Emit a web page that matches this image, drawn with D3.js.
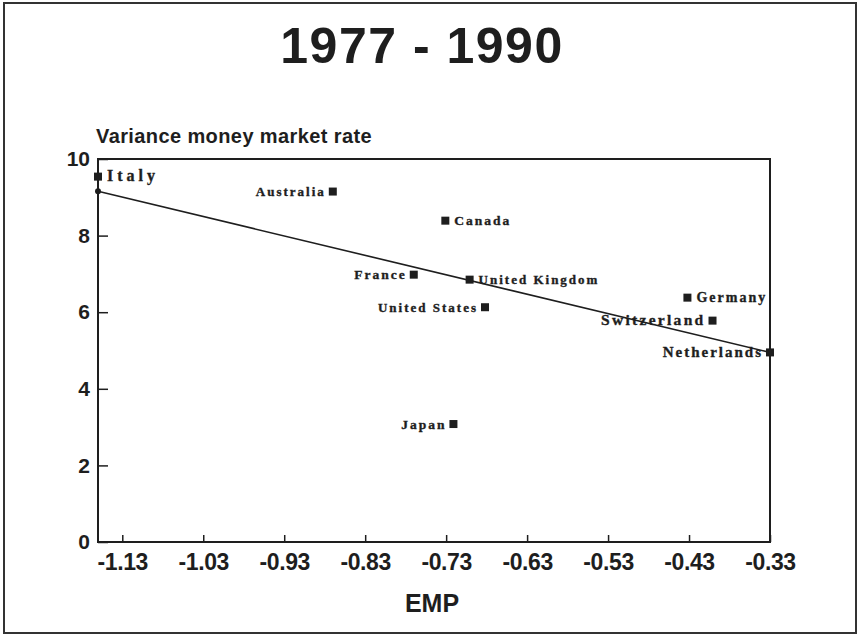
<!DOCTYPE html>
<html>
<head>
<meta charset="utf-8">
<script src="https://cdn.jsdelivr.net/npm/d3@7"></script>
<style>
  html, body { margin: 0; padding: 0; background: #fff; }
  svg { display: block; }
</style>
</head>
<body>
<svg id="chart" width="859" height="636"></svg>
<script>
// Countries, EMP (x) and variance of the money market rate (y), 1977-1990
const countries = ["Italy", "Australia", "Canada", "France", "United Kingdom",
  "United States", "Germany", "Switzerland", "Netherlands", "Japan"];
const emp = [-1.16, -0.87, -0.731, -0.77, -0.701, -0.682, -0.432, -0.401, -0.33, -0.721];
const variance = [9.54, 9.15, 8.39, 6.98, 6.85, 6.13, 6.38, 5.78, 4.95, 3.08];
const labelSide = ["right", "left", "right", "left", "right", "left", "right", "left", "left", "left"];
const xTicks = [-1.13, -1.03, -0.93, -0.83, -0.73, -0.63, -0.53, -0.43, -0.33];
const yTicks = [0, 2, 4, 6, 8, 10];

// per-label lettering (size, tracking)
const labelFont = {
  "Italy": [16, 4], "Australia": [13, 2], "Canada": [13.5, 2], "France": [13.5, 2],
  "United Kingdom": [13, 2], "United States": [13, 2], "Germany": [14, 2],
  "Switzerland": [15.5, 2.3], "Netherlands": [15, 2], "Japan": [13.5, 2]
};

const svg = d3.select("#chart");
const ink = "#1e1e1e";
const sans = "Liberation Sans, Arial, sans-serif";
const plotL = 98, plotR = 770, plotT = 159, plotB = 542;

const x = d3.scaleLinear().domain([-1.16, -0.33]).range([plotL, plotR]);
const y = d3.scaleLinear().domain([0, 10]).range([plotB, plotT]);

// outer frame
svg.append("rect").attr("x", 4).attr("y", 3).attr("width", 852).attr("height", 630)
  .attr("fill", "none").attr("stroke", "#333").attr("stroke-width", 2);

// title
svg.append("text").attr("x", 422).attr("y", 63).attr("text-anchor", "middle")
  .attr("font-family", sans).attr("font-size", 50)
  .attr("font-weight", "bold").attr("fill", ink).attr("letter-spacing", 1.5)
  .text("1977 - 1990");

// y-axis title
svg.append("text").attr("x", 96).attr("y", 143)
  .attr("font-family", sans).attr("font-size", 20)
  .attr("font-weight", "bold").attr("fill", ink).attr("letter-spacing", 0.4)
  .text("Variance money market rate");

// x-axis title
svg.append("text").attr("x", 432).attr("y", 612).attr("text-anchor", "middle")
  .attr("font-family", sans).attr("font-size", 25)
  .attr("font-weight", "bold").attr("fill", ink)
  .text("EMP");

// plot box
svg.append("rect").attr("x", plotL).attr("y", plotT).attr("width", plotR - plotL).attr("height", plotB - plotT)
  .attr("fill", "none").attr("stroke", ink).attr("stroke-width", 2);

// axes with inward ticks
const xAxis = d3.axisBottom(x).tickValues(xTicks).tickSize(-7).tickPadding(12)
  .tickFormat(d => d3.format(".2f")(d).replace("−", "-"));
const gx = svg.append("g").attr("transform", `translate(0,${plotB})`).call(xAxis);
gx.select(".domain").remove();
gx.selectAll("line").attr("stroke", ink).attr("stroke-width", 1.5);
gx.selectAll("text").attr("font-family", sans)
  .attr("font-size", 23).attr("font-weight", "bold").attr("fill", ink).attr("letter-spacing", -0.4);

const yAxis = d3.axisLeft(y).tickValues(yTicks).tickSize(-10).tickPadding(8).tickFormat(d3.format("d"));
const gy = svg.append("g").attr("transform", `translate(${plotL},0)`).call(yAxis);
gy.select(".domain").remove();
gy.selectAll("line").attr("stroke", ink).attr("stroke-width", 1.5);
gy.selectAll("text").attr("font-family", sans)
  .attr("font-size", 21).attr("font-weight", "bold").attr("fill", ink);

// least-squares fit line across the EMP range
const n = emp.length;
const mx = d3.mean(emp), my = d3.mean(variance);
let sxy = 0, sxx = 0;
for (let i = 0; i < n; i++) { sxy += (emp[i] - mx) * (variance[i] - my); sxx += (emp[i] - mx) ** 2; }
const slope = sxy / sxx, icpt = my - slope * mx;
const [x0, x1] = x.domain();
svg.append("line")
  .attr("x1", x(x0)).attr("y1", y(icpt + slope * x0))
  .attr("x2", x(x1)).attr("y2", y(icpt + slope * x1))
  .attr("stroke", ink).attr("stroke-width", 1.6);
svg.append("circle").attr("cx", x(x0)).attr("cy", y(icpt + slope * x0)).attr("r", 3).attr("fill", ink);

// markers and labels
const pts = countries.map((c, i) => ({ c, x: emp[i], y: variance[i], side: labelSide[i] }));
svg.append("g").selectAll("rect").data(pts).join("rect")
  .attr("x", d => x(d.x) - 4).attr("y", d => y(d.y) - 4)
  .attr("width", 8).attr("height", 8).attr("fill", ink);

svg.append("g").selectAll("text").data(pts).join("text")
  .attr("x", d => x(d.x) + (d.side === "right" ? 9 : -7))
  .attr("y", d => y(d.y) + 4.5)
  .attr("text-anchor", d => d.side === "right" ? "start" : "end")
  .attr("font-family", "Liberation Serif, Times New Roman, serif")
  .attr("font-size", d => labelFont[d.c][0])
  .attr("letter-spacing", d => labelFont[d.c][1])
  .attr("font-weight", "bold").attr("fill", ink)
  .attr("stroke", ink).attr("stroke-width", 0.35)
  .text(d => d.c);
</script>
</body>
</html>
